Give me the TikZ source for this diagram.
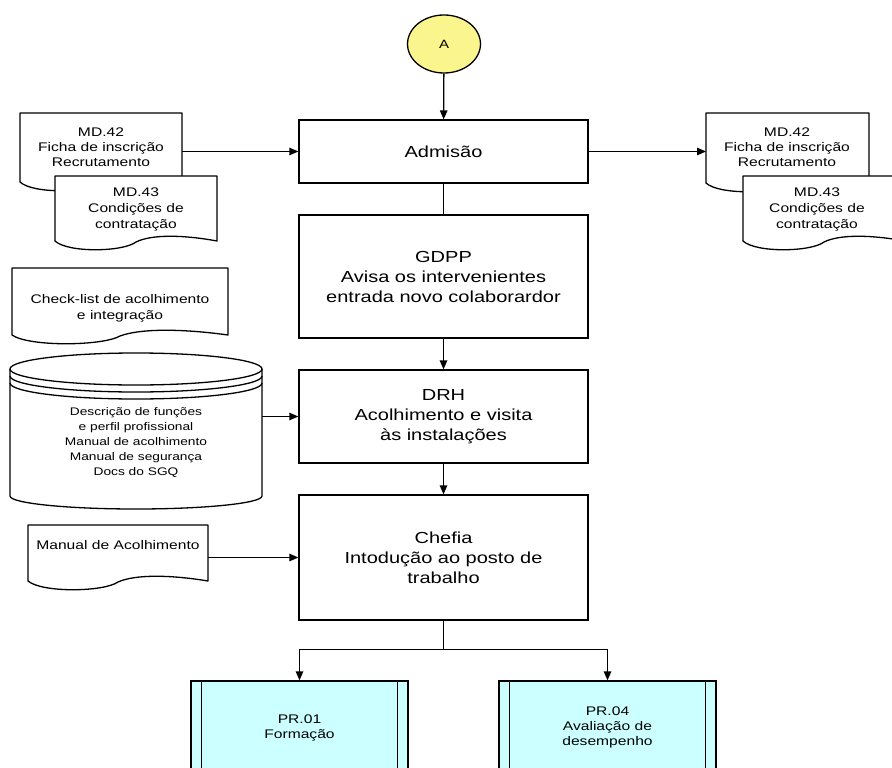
\documentclass[tikz,border=0pt]{standalone}
\usepackage{fontspec}
\setmainfont{Liberation Sans}[FakeStretch=1.25]
\usetikzlibrary{arrows.meta,shapes.geometric,calc}
\definecolor{prcyan}{HTML}{CCFFFF}
\definecolor{ayellow}{HTML}{FAF58C}
\tikzset{
 ln/.style={line width=1.3pt, draw=black},
 arr/.style={ln, -{Triangle[length=9pt,width=7.5pt]}},
 procbox/.style={ln, fill=white, rectangle, minimum width=289pt, align=center, font=\fontsize{16}{20}\selectfont, inner sep=0pt},
 docline/.style={ln, fill=white, line join=round},
 doctext/.style={align=center, font=\fontsize{12.5}{15}\selectfont, inner sep=0pt},
 prbox/.style={ln, fill=prcyan, rectangle, minimum width=217pt, minimum height=93pt, align=center, font=\fontsize{12.5}{15}\selectfont, inner sep=0pt},
}
\newcommand\docshape[4]{%
 \pgfmathsetmacro\dw{#3-#1}%
 \draw[docline] (#1,#2) -- (#3,#2) -- (#3,#4)
   .. controls ({#3-0.2*\dw},{#4-6}) and ({#1+0.6*\dw},{#4-7}) .. ({#1+0.5*\dw},{#4+1})
   .. controls ({#1+0.42*\dw},{#4+11}) and ({#1+0.08*\dw},{#4+12}) .. (#1,#4) -- cycle;
}
\begin{document}
\begin{tikzpicture}[x=1pt,y=-1pt]
\useasboundingbox (0,0) rectangle (892,768);
\clip (0,0) rectangle (892,768);

% start connector
\node[ellipse, ln, fill=ayellow, minimum width=73pt, minimum height=58pt, inner sep=0pt, font=\fontsize{12}{14}\selectfont] (A) at (444,44) {A};

% process boxes
\node[procbox, minimum height=63pt] (adm) at (443.5,151.5) {Admisão};
\node[procbox, minimum height=123pt] (gdpp) at (443.5,276.5) {GDPP\\Avisa os intervenientes\\entrada novo colaborardor};
\node[procbox, minimum height=93pt] (drh) at (443.5,416.5) {DRH\\Acolhimento e visita\\às instalações};
\node[procbox, minimum height=125pt] (chefia) at (443.5,557.5) {Chefia\\Intodução ao posto de\\trabalho};

\draw[arr] (A) -- (adm);
\draw[ln] (adm) -- (gdpp);
\draw[arr] (gdpp) -- (drh);
\draw[arr] (drh) -- (chefia);

% left documents
\docshape{20}{113}{182}{182}
\node[doctext] (md42lt) at (101,147) {MD.42\\Ficha de inscrição\\Recrutamento};
\coordinate (md42l) at (182,151.5);
\docshape{55}{176}{217}{241}
\node[doctext, font=\fontsize{12.5}{16}\selectfont] (md43lt) at (136,209) {MD.43\\Condições de\\contratação};
\draw[arr] (md42l) -- (adm.west);

% right documents
\docshape{706}{113}{869}{183}
\node[doctext] (md42rt) at (787,147) {MD.42\\Ficha de inscrição\\Recrutamento};
\coordinate (md42r) at (706,151.5);
\docshape{743}{176}{905}{241}
\node[doctext, font=\fontsize{12.5}{16}\selectfont] (md43rt) at (817,209) {MD.43\\Condições de\\contratação};
\draw[arr] (adm.east) -- (md42r);

% check-list
\docshape{12}{268}{228}{335}
\node[doctext, font=\fontsize{12.5}{16}\selectfont] (check) at (120,308) {Check-list de acolhimento\\e integração};

% database cylinder
\draw[docline] (10,369) -- (10,496) arc[start angle=180,end angle=360,x radius=126pt,y radius=13pt] -- (262,369);
\draw[ln, fill=white] (136,369) ellipse[x radius=126pt, y radius=16pt];
\draw[ln] (10,376) arc[start angle=180,end angle=360,x radius=126pt,y radius=16pt];
\draw[ln] (10,383) arc[start angle=180,end angle=360,x radius=126pt,y radius=16pt];
\node[doctext, font=\fontsize{11}{15}\selectfont] (db) at (136,443) {Descrição de funções\\e perfil profissional\\Manual de acolhimento\\Manual de segurança\\Docs do SGQ};
\coordinate (dbout) at (262,416.5);
\draw[arr] (dbout) -- (drh.west);

% manual
\docshape{28}{525}{208}{581}
\node[doctext] (man) at (118,545) {Manual de Acolhimento};
\coordinate (manout) at (208,557.5);
\draw[arr] (manout) -- (chefia.west);

% predefined processes
\node[prbox] (pr1) at (299.5,727.5) {PR.01\\Formação};
\node[prbox] (pr4) at (607.5,727.5) {PR.04\\Avaliação de\\desempenho};
\foreach \b in {pr1,pr4}{
  \draw[ln] ([xshift=11pt]\b.north west) -- ([xshift=11pt]\b.south west);
  \draw[ln] ([xshift=-11pt]\b.north east) -- ([xshift=-11pt]\b.south east);
}
\draw[arr] (chefia.south) -- ++(0,29) -| (pr1.north);
\draw[arr] (chefia.south) -- ++(0,29) -| (pr4.north);
\end{tikzpicture}
\end{document}
